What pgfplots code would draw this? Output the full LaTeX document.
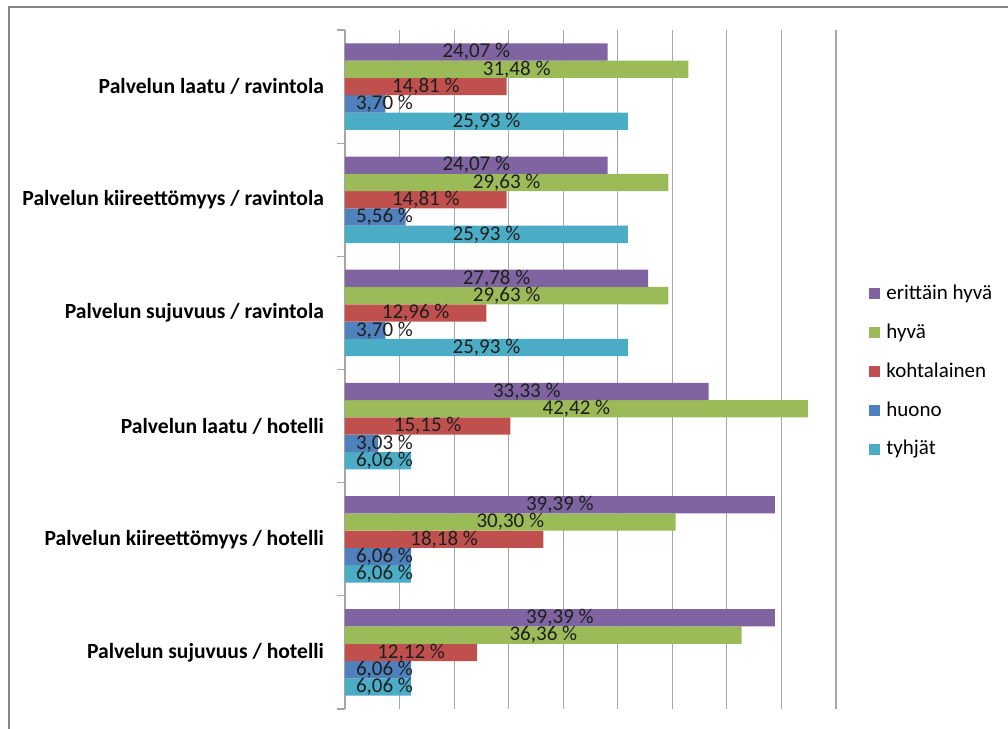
\documentclass[border=0pt]{standalone}
\usepackage{pgfplots}
\pgfplotsset{compat=1.18}
\usepackage{fontspec}
\setmainfont{Carlito}

\definecolor{cPurple}{HTML}{8064A2}
\definecolor{cGreen}{HTML}{9BBB59}
\definecolor{cRed}{HTML}{C0504D}
\definecolor{cBlue}{HTML}{4F81BD}
\definecolor{cCyan}{HTML}{4BACC6}
\definecolor{gridGray}{HTML}{A6A6A6}
\definecolor{frameGray}{HTML}{878787}
\definecolor{labelText}{HTML}{1F1F1F}

\newcommand\lblfont{\fontsize{10.5pt}{12pt}\selectfont}
\newcommand\catfont{\fontsize{10.8pt}{12pt}\selectfont}

\begin{document}
\begin{tikzpicture}
\useasboundingbox (0pt,0pt) rectangle (504pt,364.5pt);
% chart frame (left and top edges)
\draw[frameGray, line width=1pt] (4.5pt,0pt) -- (4.5pt,361pt) -- (504pt,361pt);
\begin{axis}[
  at={(172.5pt,10pt)}, anchor=south west,
  scale only axis, width=245.5pt, height=339.5pt,
  xbar=0pt, bar width=8.65pt,
  xmin=0, xmax=45, ymin=-0.5, ymax=5.5, y dir=reverse,
  xtick={0,5,...,45}, xticklabels={},
  xmajorgrids, grid style={gridGray, line width=0.6pt},
  ytick={0,...,5},
  yticklabels={Palvelun laatu / ravintola, Palvelun kiireettömyys / ravintola, Palvelun sujuvuus / ravintola, Palvelun laatu / hotelli, Palvelun kiireettömyys / hotelli, Palvelun sujuvuus / hotelli},
  yticklabel style={font=\catfont\bfseries, text=black, xshift=-7pt},
  minor ytick={-0.5,0.5,...,5.5},
  tick align=outside, major tick length=0pt, minor tick length=4pt,
  tick style={gridGray, line width=0.6pt},
  separate axis lines,
  axis x line*=bottom, axis y line*=left,
  x axis line style={draw=none},
  y axis line style={gridGray, line width=0.6pt, -},
  point meta=x,
  nodes near coords={\pgfmathprintnumber[fixed,fixed zerofill,precision=2,use comma,assume math mode=true]{\pgfplotspointmeta}~\%},
  visualization depends on={x \as \rawxv},
  every node near coord/.append style={anchor=center, font=\lblfont, text=labelText, inner sep=0pt,
    xshift={(max(\rawxv/2,3.62)-\rawxv)*5.4556}},
  reverse legend,
  legend style={draw=none, fill=none, at={(1.0672,0.626)}, anchor=north west,
    font=\lblfont, legend cell align=left, row sep=9.95pt, inner sep=0pt,
    nodes={inner sep=0pt, text height=7.5pt, text depth=2pt},
    /tikz/every odd column/.append style={column sep=3pt}},
  legend image code/.code={\path[#1, draw=none] (0pt,-2.75pt) rectangle (5.5pt,2.75pt);},
]
% bars are stacked from the bottom of each group upwards, so the last series comes first
% tyhjät
\addplot[fill=cCyan, draw=none] coordinates {(25.93,0) (25.93,1) (25.93,2) (6.06,3) (6.06,4) (6.06,5)};
% huono
\addplot[fill=cBlue, draw=none] coordinates {(3.70,0) (5.56,1) (3.70,2) (3.03,3) (6.06,4) (6.06,5)};
% kohtalainen
\addplot[fill=cRed, draw=none] coordinates {(14.81,0) (14.81,1) (12.96,2) (15.15,3) (18.18,4) (12.12,5)};
% hyvä
\addplot[fill=cGreen, draw=none] coordinates {(31.48,0) (29.63,1) (29.63,2) (42.42,3) (30.30,4) (36.36,5)};
% erittäin hyvä
\addplot[fill=cPurple, draw=none] coordinates {(24.07,0) (24.07,1) (27.78,2) (33.33,3) (39.39,4) (39.39,5)};
\legend{tyhjät, huono, kohtalainen, hyvä, erittäin hyvä}
\end{axis}
\end{tikzpicture}
\end{document}
